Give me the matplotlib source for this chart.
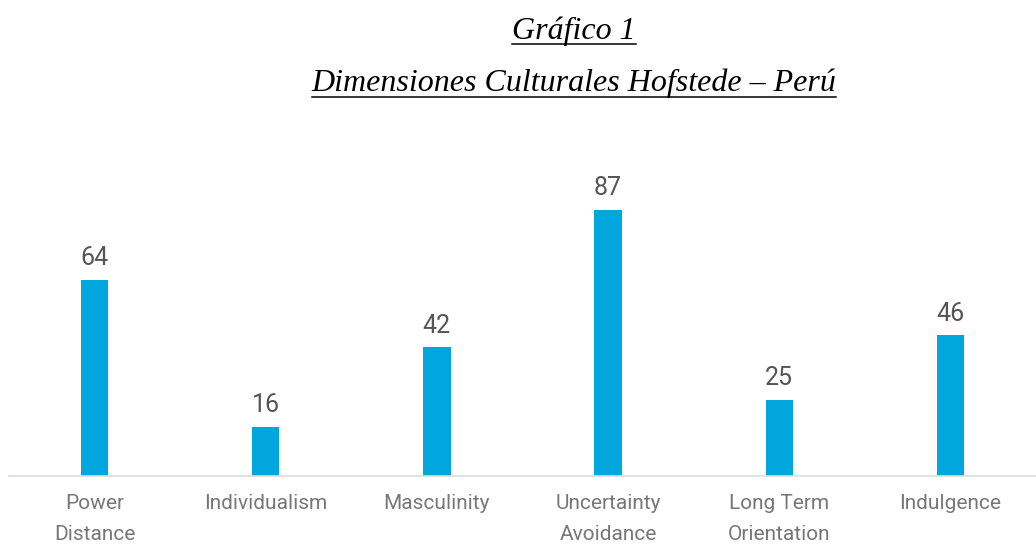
import matplotlib
matplotlib.use("Agg")
import matplotlib.pyplot as plt
from matplotlib.lines import Line2D

categories = ["Power\nDistance", "Individualism", "Masculinity",
              "Uncertainty\nAvoidance", "Long Term\nOrientation", "Indulgence"]
scores = [64, 16, 42, 87, 25, 46]

title1 = "Gráfico 1"
title2 = "Dimensiones Culturales Hofstede – Perú"

W, H = 1036, 544
fig = plt.figure(figsize=(W / 100, H / 100), dpi=100)
ax = fig.add_axes([9 / W, 1 - 476 / H, 1 - 9 / W, (476 - 170) / H])

x = list(range(len(scores)))
ax.bar(x, scores, width=0.16, color="#00a6dd")
for i, v in zip(x, scores):
    ax.annotate(str(v), (i, v), xytext=(0, 7), textcoords="offset points",
                ha="center", va="bottom", fontsize=18, color="#555555",
                family="Roboto")

ax.set_xlim(-0.5, len(scores) - 0.5)
ax.set_ylim(0, 100)
ax.set_xticks(x)
ax.set_xticklabels(categories, fontsize=15, color="#777777", family="Roboto",
                   linespacing=1.8)
ax.tick_params(axis="x", length=0, pad=13)
ax.set_yticks([])
for s in ["top", "left", "right"]:
    ax.spines[s].set_visible(False)
ax.spines["bottom"].set_color("#dddddd")
ax.spines["bottom"].set_linewidth(1.2)

# titles, underlined by hand
t1 = fig.text(574 / W, 1 - 39 / H, title1, ha="center", va="baseline",
              fontsize=23, style="italic", family="Liberation Serif")
t2 = fig.text(574 / W, 1 - 91 / H, title2, ha="center", va="baseline",
              fontsize=23, style="italic", family="Liberation Serif")
fig.canvas.draw()
r = fig.canvas.get_renderer()
for t, yu in [(t1, 44), (t2, 97)]:
    bb = t.get_window_extent(r)
    fig.add_artist(Line2D([bb.x0 / W, bb.x1 / W], [1 - yu / H, 1 - yu / H],
                          transform=fig.transFigure, color="black", lw=1.1))

fig.savefig("out.png", dpi=100)
